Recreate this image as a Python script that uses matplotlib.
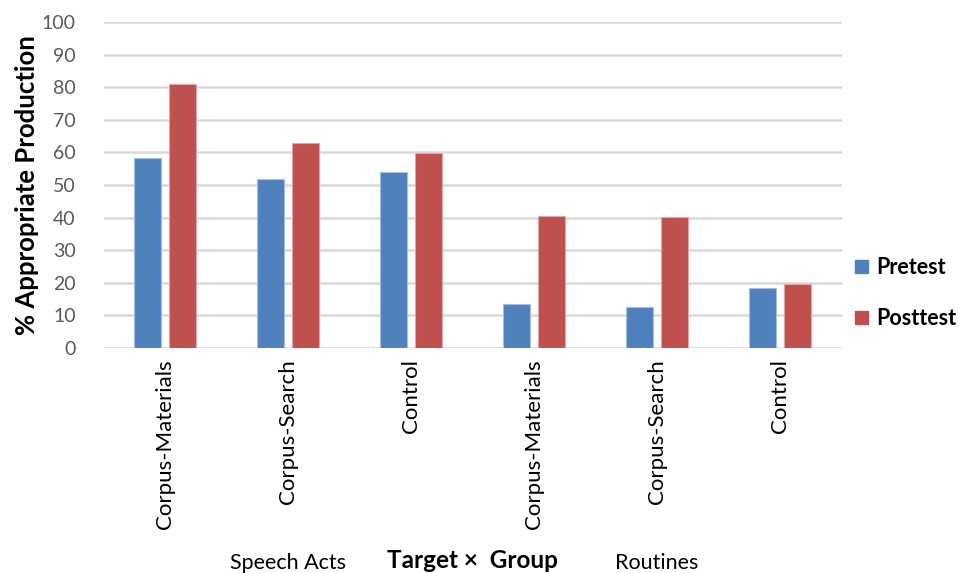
import numpy as np
import matplotlib.pyplot as plt
from matplotlib.patches import Patch

# groups on the x axis (first three: Speech Acts, last three: Routines)
groups = ['Corpus-Materials', 'Corpus-Search', 'Control',
          'Corpus-Materials', 'Corpus-Search', 'Control']
pretest = [58.2, 51.8, 54.1, 13.6, 12.6, 18.3]
posttest = [80.9, 62.9, 59.7, 40.5, 40.2, 19.5]
yticks = list(range(0, 101, 10))

blue = '#4F81BD'
red = '#C0504D'
grey = '#595959'

plt.rcParams['font.family'] = ['Lato', 'DejaVu Sans']

fig = plt.figure(figsize=(9.59, 5.73), dpi=100)
ax = fig.add_axes([103.5 / 959, 1 - 348 / 573, 738 / 959, 326 / 573])

x = np.arange(len(groups))
w = 0.22
ax.bar(x - 0.145, pretest, w, color=blue, edgecolor='#A7BFDE', linewidth=0.8, zorder=3)
ax.bar(x + 0.145, posttest, w, color=red, edgecolor='#DFA7A6', linewidth=0.8, zorder=3)

ax.set_xlim(-0.5, len(groups) - 0.5)
ax.set_ylim(0, 100)
ax.set_yticks(yticks)
ax.set_xticks(x)
ax.set_xticklabels(groups, rotation=90, fontsize=16, color='black')
ax.tick_params(axis='y', labelsize=14, labelcolor=grey, length=0, pad=20)
ax.tick_params(axis='x', length=0, pad=8)
ax.grid(axis='y', color='#D9D9D9', linewidth=1.8, zorder=0)
for s in ax.spines.values():
    s.set_visible(False)

ax.set_ylabel('% Appropriate Production', fontsize=18.5, fontweight='bold', labelpad=2)

# bottom captions
fig.text(288 / 959, 1 - 563 / 573, 'Speech Acts', fontsize=15.5, ha='center', va='center')
fig.text(472 / 959, 1 - 561 / 573, 'Target \u00d7  Group', fontsize=17.5, fontweight='bold',
         ha='center', va='center')
fig.text(657 / 959, 1 - 563 / 573, 'Routines', fontsize=15.5, ha='center', va='center')

handles = [Patch(color=blue, label='Pretest'), Patch(color=red, label='Posttest')]
fig.legend(handles=handles, loc='center left', bbox_to_anchor=(855 / 959, 1 - 293 / 573),
           frameon=False, prop={'size': 15.5, 'weight': 'bold'}, handlelength=0.6,
           handleheight=0.6, handletextpad=0.4, labelspacing=1.4,
           borderpad=0, borderaxespad=0)

fig.savefig('out.png', dpi=100)
